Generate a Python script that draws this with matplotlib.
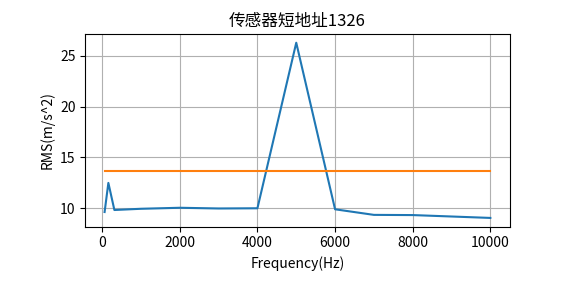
import matplotlib
matplotlib.use("Agg")
import matplotlib.pyplot as plt

plt.rcParams['font.family'] = ['Noto Sans CJK SC', 'DejaVu Sans']
plt.rcParams['axes.unicode_minus'] = False

freq = [63, 160, 315, 1000, 2000, 3000, 4000, 5000, 6000, 7000, 8000, 10000]
rms = [9.63, 12.5, 9.83, 9.95, 10.05, 9.98, 10.0, 26.3, 9.9, 9.35, 9.33, 9.05]
limit = [13.65] * len(freq)

fig = plt.figure(figsize=(5.65, 2.83), dpi=100)
ax = fig.add_subplot(111)
fig.subplots_adjust(left=0.151, right=0.902, top=0.880, bottom=0.199)

ax.plot(freq, rms)
ax.plot(freq, limit)
ax.grid(True)
ax.set_title("传感器短地址1326")
ax.set_xlabel("Frequency(Hz)")
ax.set_ylabel("RMS(m/s^2)")

fig.savefig("out.png", dpi=100)
